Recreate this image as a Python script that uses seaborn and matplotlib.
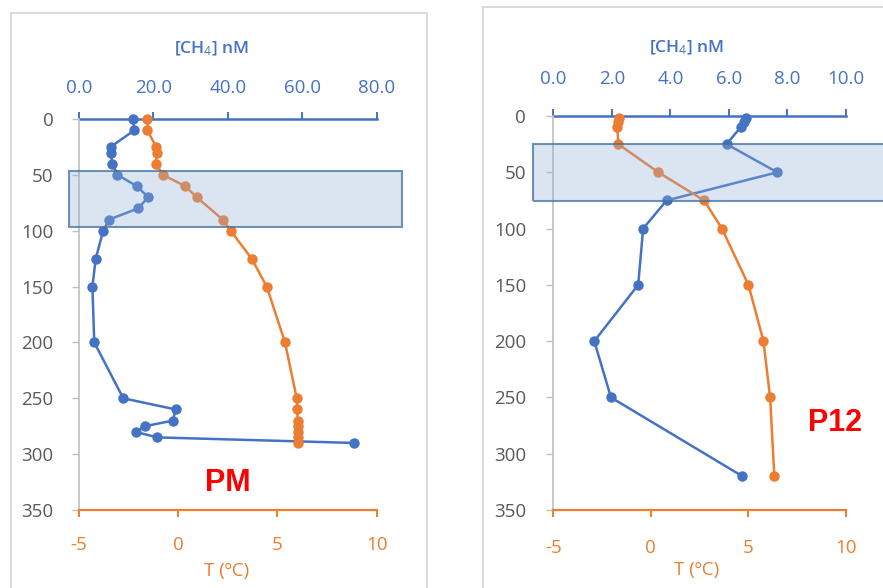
import matplotlib
matplotlib.use("Agg")
import matplotlib.pyplot as plt
from matplotlib.patches import Rectangle
from matplotlib.transforms import blended_transform_factory
import pandas as pd
import seaborn as sns

# ---- Station PM profile ----
pm_ch4_depth = [0, 10, 25, 30, 40, 50, 60, 70, 80, 90, 100, 125, 150, 200,
                250, 260, 270, 275, 280, 285, 290]
pm_ch4 = [14.4, 14.9, 8.5, 8.5, 9.0, 10.3, 15.5, 18.6, 15.9, 8.1, 6.5, 4.5,
          3.6, 4.1, 11.9, 26.0, 25.2, 17.7, 15.2, 21.0, 74.0]
pm_t_depth = [0, 10, 25, 30, 40, 50, 60, 70, 90, 100, 125, 150, 200, 250,
              260, 270, 275, 280, 285, 290]
pm_t = [-1.55, -1.55, -1.12, -1.09, -1.12, -0.78, 0.34, 0.93, 2.24, 2.64,
        3.70, 4.46, 5.38, 5.97, 6.00, 6.02, 6.02, 6.03, 6.03, 6.03]

# ---- Station P12 profile ----
p12_depth = [2, 5, 10, 25, 50, 75, 100, 150, 200, 250, 320]
p12_ch4 = [6.6, 6.5, 6.4, 5.92, 7.65, 3.87, 3.07, 2.90, 1.40, 1.97, 6.46]
p12_t = [-1.63, -1.68, -1.72, -1.67, 0.38, 2.73, 3.64, 5.0, 5.77, 6.11, 6.33]

# shaded depth layers (m)
pm_zone = [46.5, 97]
p12_zone = [25, 75.5]

depth_ticks = [0, 50, 100, 150, 200, 250, 300, 350]
t_ticks = [-5, 0, 5, 10]
pm_ch4_ticks = [0, 20, 40, 60, 80]
p12_ch4_ticks = [0, 2, 4, 6, 8, 10]

BLUE = "#4472C4"
ORANGE = "#ED7D31"
GREY_TXT = "#595959"
GREY_AX = "#BFBFBF"

sns.set_style("white")
plt.rcParams["font.family"] = ["Open Sans", "DejaVu Sans"]
plt.rcParams["mathtext.fontset"] = "custom"
plt.rcParams["mathtext.rm"] = "Open Sans"
plt.rcParams["mathtext.it"] = "Open Sans:italic"
plt.rcParams["mathtext.bf"] = "Open Sans:bold"
plt.rcParams["axes.unicode_minus"] = False

W, H = 883, 588
fig = plt.figure(figsize=(W / 100, H / 100), dpi=100)


def fx(px):
    return px / W


def fy(py):
    return 1 - py / H


# panel frames
fig.add_artist(Rectangle((fx(11), fy(600)), fx(427) - fx(11), fy(13) - fy(600),
                         transform=fig.transFigure, fill=False,
                         edgecolor="#DADADA", lw=1.4))
fig.add_artist(Rectangle((fx(483), fy(600)), fx(900) - fx(483), fy(7) - fy(600),
                         transform=fig.transFigure, fill=False,
                         edgecolor="#DADADA", lw=1.4))


def panel(rect, ch4_depth, ch4, t_depth, t, ch4_max, ch4_ticks, zone, zone_x,
          top_pad, bot_pad, left_pad):
    ax = fig.add_axes(rect)
    ax.patch.set_alpha(0)
    df_t = pd.DataFrame({"T": t, "depth": t_depth})
    sns.lineplot(data=df_t, x="T", y="depth", sort=False, estimator=None,
                 ax=ax, color=ORANGE, lw=1.8, marker="o", markersize=7.5,
                 markeredgewidth=0, zorder=3, clip_on=False)
    ax.set_xlim(-5, 10)
    ax.set_ylim(350, 0)
    ax.set_xticks(t_ticks)
    ax.set_yticks(depth_ticks)
    ax.set_xlabel("")
    ax.set_ylabel("")
    for s in ("top", "right"):
        ax.spines[s].set_visible(False)
    ax.spines["bottom"].set_color(ORANGE)
    ax.spines["bottom"].set_linewidth(1.6)
    ax.spines["left"].set_color(GREY_AX)
    ax.spines["left"].set_linewidth(1.2)
    ax.tick_params(axis="x", direction="out", length=5, width=1.4,
                   color=ORANGE, labelcolor=ORANGE, labelsize=13.5,
                   pad=bot_pad, bottom=True)
    ax.tick_params(axis="y", direction="out", length=5, width=1.0,
                   color=GREY_AX, labelcolor=GREY_TXT, labelsize=13.5,
                   pad=left_pad, left=True)

    ax2 = ax.twiny()
    df_c = pd.DataFrame({"CH4": ch4, "depth": ch4_depth})
    sns.lineplot(data=df_c, x="CH4", y="depth", sort=False, estimator=None,
                 ax=ax2, color=BLUE, lw=1.8, marker="o", markersize=7.5,
                 markeredgewidth=0, zorder=4, clip_on=False)
    ax2.set_xlim(0, ch4_max)
    ax2.set_ylim(350, 0)
    ax2.set_xticks(ch4_ticks)
    ax2.set_xticklabels([f"{v:.1f}" for v in ch4_ticks])
    ax2.set_xlabel("")
    ax2.set_ylabel("")
    for s in ("bottom", "left", "right"):
        ax2.spines[s].set_visible(False)
    ax2.spines["top"].set_color(BLUE)
    ax2.spines["top"].set_linewidth(1.8)
    ax2.tick_params(axis="x", direction="out", length=5, width=1.4,
                    color=BLUE, labelcolor=BLUE, labelsize=13.5, pad=top_pad,
                    top=True)

    # shaded layer drawn over the profiles
    tr = blended_transform_factory(ax.transAxes, ax.transData)
    ax.add_patch(Rectangle((zone_x[0], zone[1]), zone_x[1] - zone_x[0],
                           zone[0] - zone[1], transform=tr, clip_on=False,
                           facecolor="#8FB0D8", alpha=0.32, edgecolor="none",
                           zorder=10))
    ax.add_patch(Rectangle((zone_x[0], zone[1]), zone_x[1] - zone_x[0],
                           zone[0] - zone[1], transform=tr, clip_on=False,
                           facecolor="none", edgecolor="#41719C", alpha=0.75,
                           lw=1.5, zorder=11))
    return ax, ax2


# left panel (PM)
axL, axL2 = panel([fx(79), fy(510), fx(376.7) - fx(79), fy(119) - fy(510)],
                  pm_ch4_depth, pm_ch4, pm_t_depth, pm_t, 80, pm_ch4_ticks,
                  pm_zone, [-0.034, 1.084], 11, 14, 13.5)
# right panel (P12)
axR, axR2 = panel([fx(553.3), fy(510), fx(846) - fx(553.3), fy(116) - fy(510)],
                  p12_depth, p12_ch4, p12_depth, p12_t, 10, p12_ch4_ticks,
                  p12_zone, [-0.07, 1.3], 15.5, 16, 14.5)

# bring the shaded layers in front of the twin axes
for a, a2 in ((axL, axL2), (axR, axR2)):
    a.set_zorder(a2.get_zorder() + 1)

# axis titles
ch4_label = "[CH$_4$] nM"
fig.text(fx(212), fy(49), ch4_label, color=BLUE, fontsize=12.5,
         fontweight="semibold", ha="center", va="center")
fig.text(fx(687), fy(47.5), ch4_label, color=BLUE, fontsize=12.5,
         fontweight="semibold", ha="center", va="center")
fig.text(fx(227), fy(571), "T (ºC)", color=ORANGE, fontsize=13.5,
         ha="center", va="center")
fig.text(fx(697), fy(570), "T (ºC)", color=ORANGE, fontsize=13.5,
         ha="center", va="center")

# station names
fig.text(fx(228), fy(483), "PM", color="#FF0000", fontsize=22,
         fontweight="bold", family="Liberation Sans", ha="center", va="center")
fig.text(fx(835), fy(423), "P12", color="#FF0000", fontsize=22,
         fontweight="bold", family="Liberation Sans", ha="center", va="center")

fig.savefig("out.png", dpi=100)
